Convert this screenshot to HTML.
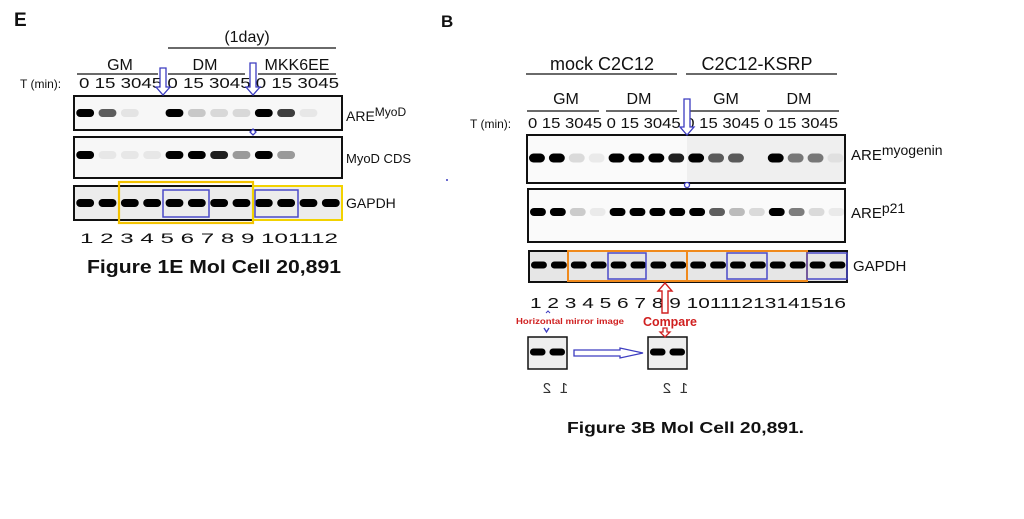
<!DOCTYPE html>
<html><head><meta charset="utf-8"><style>
body{margin:0;background:#fff;width:1024px;height:519px;overflow:hidden}
svg{display:block}
text{font-family:"Liberation Sans",sans-serif;fill:#111}
.b{font-weight:bold}
</style></head><body>
<svg id="s" width="1024" height="519" viewBox="0 0 1024 519">
<!-- LEFT PANEL -->
<text x="14" y="26" font-size="19" class="b">E</text>
<text x="247" y="42" font-size="16" text-anchor="middle">(1day)</text>
<line x1="168" y1="48" x2="336" y2="48" stroke="#111" stroke-width="1.3"/>
<text x="120" y="70" font-size="16" text-anchor="middle">GM</text>
<text x="205" y="70" font-size="16" text-anchor="middle">DM</text>
<text x="297" y="70" font-size="16" text-anchor="middle">MKK6EE</text>
<line x1="77" y1="74" x2="158" y2="74" stroke="#111" stroke-width="1.3"/>
<line x1="168" y1="74" x2="245" y2="74" stroke="#111" stroke-width="1.3"/>
<line x1="258" y1="74" x2="336" y2="74" stroke="#111" stroke-width="1.3"/>
<text x="20" y="88" font-size="12">T (min):</text>
<text x="79" y="88" font-size="15" textLength="260" lengthAdjust="spacingAndGlyphs">0 15 3045 0 15 3045 0 15 3045</text>
<rect x="74" y="96" width="268" height="34" fill="#f7f7f7" stroke="#111" stroke-width="2"/>
<rect x="74" y="137" width="268" height="41" fill="#f7f7f7" stroke="#111" stroke-width="2"/>
<rect x="74" y="186" width="268" height="34" fill="#ececec" stroke="#111" stroke-width="2"/>
<g id="lb"></g>
<rect x="119" y="182" width="134" height="41" fill="none" stroke="#f2c200" stroke-width="2.2"/>
<rect x="253" y="186" width="89" height="34" fill="none" stroke="#f2d200" stroke-width="2"/>
<rect x="163" y="190" width="46" height="27" fill="none" stroke="#4a4ac8" stroke-width="1.5"/>
<rect x="255" y="190" width="43" height="27" fill="none" stroke="#4a4ac8" stroke-width="1.5"/>
<text x="346" y="121" font-size="14">ARE<tspan font-size="12" dy="-5">MyoD</tspan></text>
<text x="346" y="163" font-size="13">MyoD CDS</text>
<text x="346" y="208" font-size="14">GAPDH</text>
<text x="80" y="243" font-size="14" textLength="258" lengthAdjust="spacingAndGlyphs">1  2  3  4  5  6  7  8  9  101112</text>
<text x="87" y="273" font-size="18" class="b" textLength="254" lengthAdjust="spacingAndGlyphs">Figure 1E Mol Cell 20,891</text>
<path d="M160 68 h6 v19 h4 l-7 8 l-7 -8 h4z" fill="#fff" stroke="#3c3cc0" stroke-width="1.3"/>
<path d="M250 63 h6 v24 h4 l-7 8 l-7 -8 h4z" fill="#fff" stroke="#3c3cc0" stroke-width="1.3"/>
<path d="M253 129 l3 3 l-3 3 l-3 -3z" fill="#fff" stroke="#3c3cc0" stroke-width="1.3"/>

<!-- RIGHT PANEL -->
<text x="441" y="27" font-size="17" class="b">B</text>
<text x="602" y="70" font-size="18" text-anchor="middle">mock C2C12</text>
<text x="757" y="70" font-size="18" text-anchor="middle">C2C12-KSRP</text>
<line x1="526" y1="74" x2="677" y2="74" stroke="#111" stroke-width="1.3"/>
<line x1="686" y1="74" x2="837" y2="74" stroke="#111" stroke-width="1.3"/>
<text x="566" y="104" font-size="16" text-anchor="middle">GM</text>
<text x="639" y="104" font-size="16" text-anchor="middle">DM</text>
<text x="726" y="104" font-size="16" text-anchor="middle">GM</text>
<text x="799" y="104" font-size="16" text-anchor="middle">DM</text>
<line x1="527" y1="111" x2="599" y2="111" stroke="#111" stroke-width="1.3"/>
<line x1="606" y1="111" x2="677" y2="111" stroke="#111" stroke-width="1.3"/>
<line x1="686" y1="111" x2="760" y2="111" stroke="#111" stroke-width="1.3"/>
<line x1="767" y1="111" x2="839" y2="111" stroke="#111" stroke-width="1.3"/>
<text x="470" y="128" font-size="12">T (min):</text>
<text x="528" y="128" font-size="15" textLength="310" lengthAdjust="spacingAndGlyphs">0 15 3045 0 15 3045 0 15 3045 0 15 3045</text>
<rect x="527" y="135" width="318" height="48" fill="#fafafa" stroke="#111" stroke-width="2"/>
<rect x="687" y="136" width="157" height="46" fill="#efefef"/>
<rect x="528" y="189" width="317" height="53" fill="#fafafa" stroke="#111" stroke-width="2"/>
<rect x="529" y="251" width="318" height="31" fill="#e6e6e6" stroke="#111" stroke-width="2"/>
<rect x="528" y="337" width="39" height="32" fill="#eeeeee" stroke="#111" stroke-width="1.5"/>
<rect x="648" y="337" width="39" height="32" fill="#eeeeee" stroke="#111" stroke-width="1.5"/>
<g id="rb"></g>
<rect x="568" y="251" width="119" height="30" fill="none" stroke="#f08a1c" stroke-width="2"/>
<rect x="687" y="251" width="120" height="30" fill="none" stroke="#f08a1c" stroke-width="2"/>
<rect x="608" y="253" width="38" height="26" fill="none" stroke="#4a4ac8" stroke-width="1.5"/>
<rect x="727" y="253" width="40" height="26" fill="none" stroke="#4a4ac8" stroke-width="1.5"/>
<rect x="807" y="253" width="40" height="26" fill="none" stroke="#4a4ac8" stroke-width="1.5"/>
<text x="851" y="160" font-size="15">ARE<tspan font-size="14" dy="-5">myogenin</tspan></text>
<text x="851" y="218" font-size="15">ARE<tspan font-size="14" dy="-5">p21</tspan></text>
<text x="853" y="271" font-size="15">GAPDH</text>
<text x="530" y="308" font-size="15" textLength="316" lengthAdjust="spacingAndGlyphs">1  2  3  4  5  6  7  8  9 10111213141516</text>
<text x="516" y="324" font-size="8" class="b" style="fill:#d02020" textLength="108" lengthAdjust="spacingAndGlyphs">Horizontal mirror image</text>
<text x="643" y="326" font-size="13" class="b" style="fill:#d02020" textLength="54" lengthAdjust="spacingAndGlyphs">Compare</text>
<path d="M546 313 l2 -2 l2 2" fill="none" stroke="#3c3cc0" stroke-width="1"/>
<path d="M544 328 l2.5 4 l2.5 -4" fill="none" stroke="#3c3cc0" stroke-width="1.3"/>
<path d="M662 313 v-22 h-4 l7 -8 l7 8 h-4 v22z" fill="#fff" stroke="#d02020" stroke-width="1.4"/>
<path d="M663 328 h4 v4 h3 l-5 5 l-5 -5 h3z" fill="#fff" stroke="#d02020" stroke-width="1.3"/>
<path d="M574 350 h46 v-2 l23 5 l-23 5 v-2 h-46z" fill="#fff" stroke="#3c3cc0" stroke-width="1.3"/>
<text x="547" y="393" font-size="15" text-anchor="middle" style="fill:#333" transform="translate(1094,0) scale(-1,1)">2</text>
<text x="564" y="393" font-size="15" text-anchor="middle" style="fill:#333" transform="translate(1128,0) scale(-1,1)">1</text>
<text x="667" y="393" font-size="15" text-anchor="middle" style="fill:#333" transform="translate(1334,0) scale(-1,1)">2</text>
<text x="684" y="393" font-size="15" text-anchor="middle" style="fill:#333" transform="translate(1368,0) scale(-1,1)">1</text>
<text x="567" y="433" font-size="16" class="b" textLength="237" lengthAdjust="spacingAndGlyphs">Figure 3B Mol Cell 20,891.</text>
<path d="M684 99 h6 v28 h4 l-7 8 l-7 -8 h4z" fill="#fff" stroke="#3c3cc0" stroke-width="1.3"/>
<circle cx="687" cy="185" r="2.5" fill="#fff" stroke="#3c3cc0" stroke-width="1.3"/>
<circle cx="447" cy="180" r="1" fill="#3c3cc0"/>
</svg>
<script>
function bands(g,x0,w,y,vals,h){var s='';vals.forEach(function(v,i){if(v<=0)return;var cx=x0+w*(i+0.5);var bw=w*0.8;var op=Math.min(1,v*1.25);s+='<rect x="'+(cx-bw/2)+'" y="'+(y-h/2)+'" width="'+bw+'" height="'+h+'" rx="'+h/2+'" fill="#000" fill-opacity="'+op+'"/>';});document.getElementById(g).innerHTML+=s;}
bands('lb',74,22.33,113,[1,.5,.06,0,.9,.15,.1,.1,1,.6,.05,0],8);
bands('lb',74,22.33,155,[.9,.05,.05,.05,.95,.9,.7,.3,.9,.3,0,0],8);
bands('lb',74,22.33,203,[.9,.95,.9,.9,.9,.9,.95,.85,.9,.9,.95,.85],8);
bands('rb',527,19.9,158,[1,.8,.1,.05,1,1,.85,.7,.85,.5,.5,0,1,.4,.4,.05],9);
bands('rb',528,19.9,212,[1,.8,.15,.05,1,1,.8,.8,.85,.5,.2,.1,.9,.4,.1,.05],8);
bands('rb',529,19.9,265,[.9,.95,.9,.9,.9,.9,.9,.85,.9,.85,.9,.9,.9,.85,.9,.9],7);
bands('rb',528,19.5,352,[.9,.85],7);
bands('rb',648,19.5,352,[.9,.85],7);
</script>
</body></html>
